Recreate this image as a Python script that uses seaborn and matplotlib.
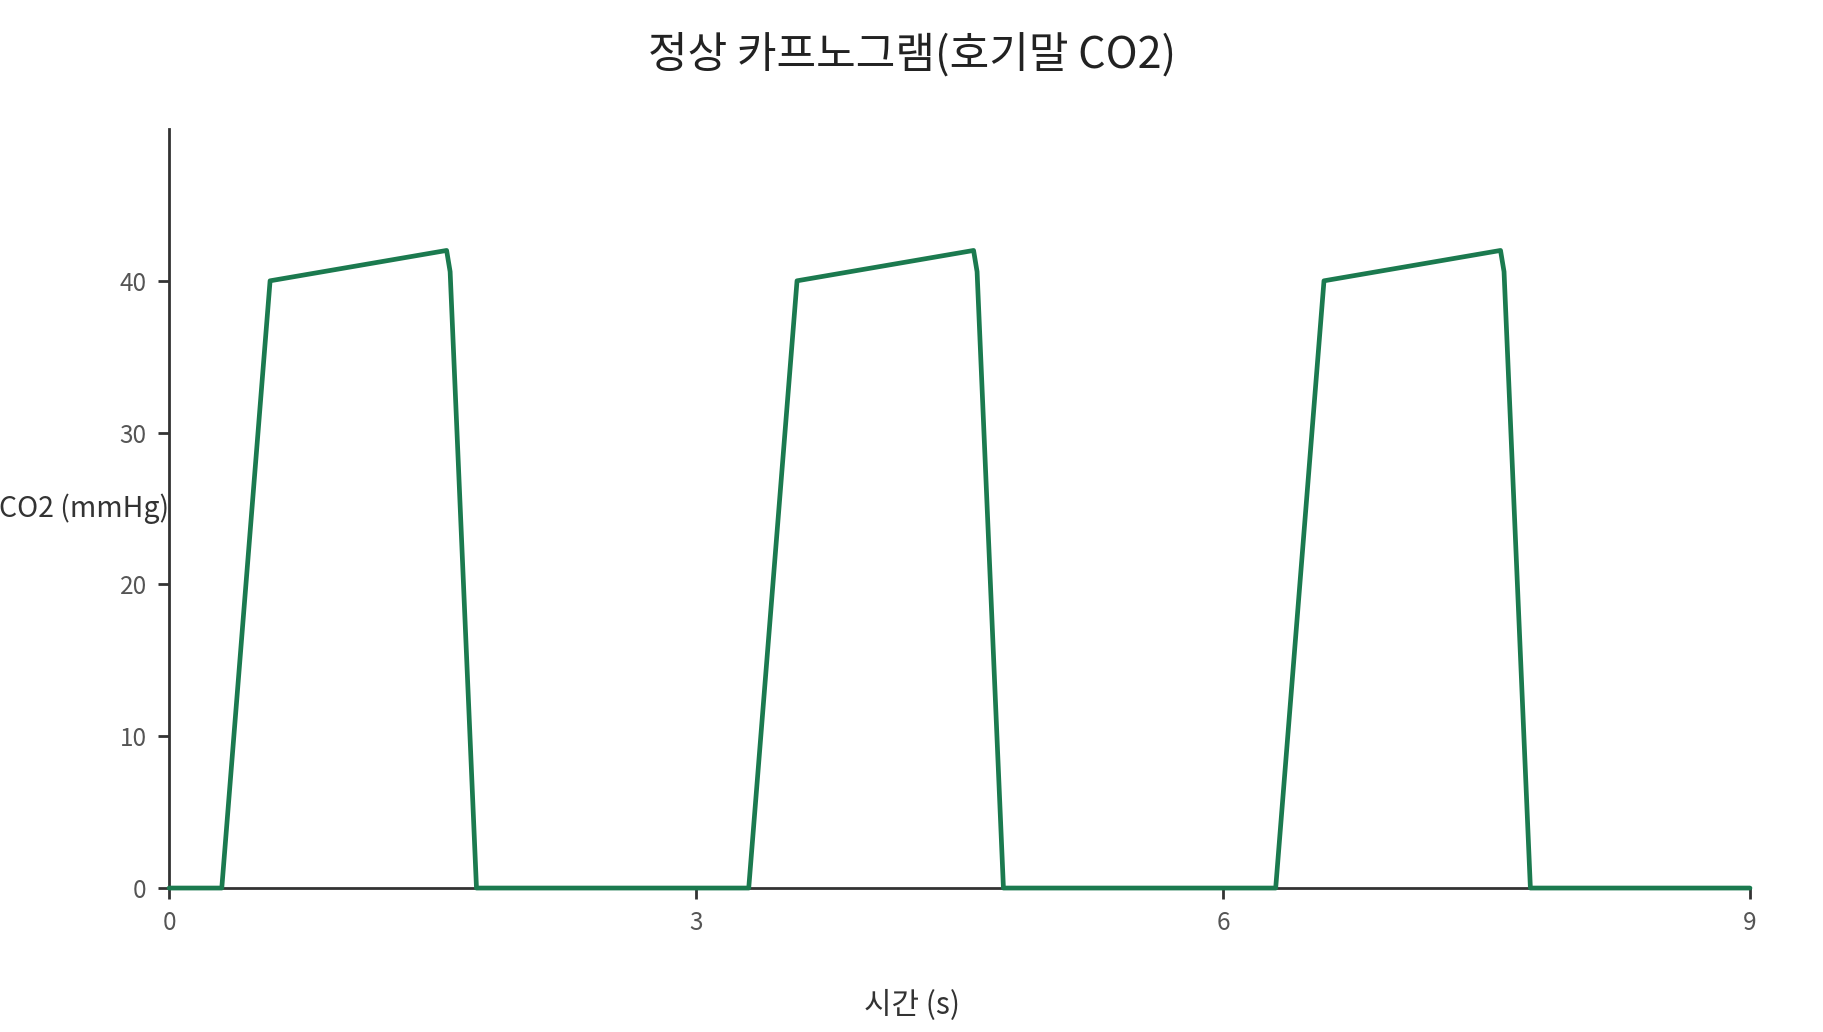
import pandas as pd
import matplotlib.pyplot as plt
import seaborn as sns

# 정상 카프노그램 - 3 breaths, 3 s each
time_s = [0.0, 0.3, 0.575, 1.58, 1.6, 1.75,
          3.3, 3.575, 4.58, 4.6, 4.75,
          6.3, 6.575, 7.58, 7.6, 7.75, 9.0]
co2_mmhg = [0, 0, 40, 42, 40.6, 0,
            0, 40, 42, 40.6, 0,
            0, 40, 42, 40.6, 0, 0]
x_ticks = [0, 3, 6, 9]
y_ticks = [0, 10, 20, 30, 40]

df = pd.DataFrame({'t': time_s, 'co2': co2_mmhg})

sns.set_style('white')
plt.rcParams['font.family'] = ['Noto Sans CJK KR', 'DejaVu Sans']

fig = plt.figure(figsize=(18.24, 10.32), dpi=100)
ax = fig.add_axes([0.0927, 0.1395, 0.8667, 0.7355])

sns.lineplot(data=df, x='t', y='co2', ax=ax, color='#1b7a4f', linewidth=3.4,
             clip_on=False, zorder=5)

ax.set_xlim(0, 9)
ax.set_ylim(0, 50)
ax.set_xticks(x_ticks)
ax.set_yticks(y_ticks)
ax.tick_params(axis='both', direction='out', length=8, width=2, color='#333333',
               labelsize=17.5, labelcolor='#555555', pad=8, left=True, bottom=True)

for side in ['top', 'right']:
    ax.spines[side].set_visible(False)
for side in ['left', 'bottom']:
    ax.spines[side].set_color('#333333')
    ax.spines[side].set_linewidth(2)

ax.set_xlabel('')
ax.set_ylabel('')
fig.text(0.5, 0.026, '시간 (s)', ha='center', va='center', fontsize=21.5, color='#333333')
ax.text(0.0, 0.5, 'CO2 (mmHg)', transform=ax.transAxes, ha='right', va='center',
        fontsize=20.5, color='#333333')
fig.text(0.5, 0.946, '정상 카프노그램(호기말 CO2)', ha='center', va='center',
         fontsize=31, color='#222222')

fig.savefig('out.png', dpi=100)
